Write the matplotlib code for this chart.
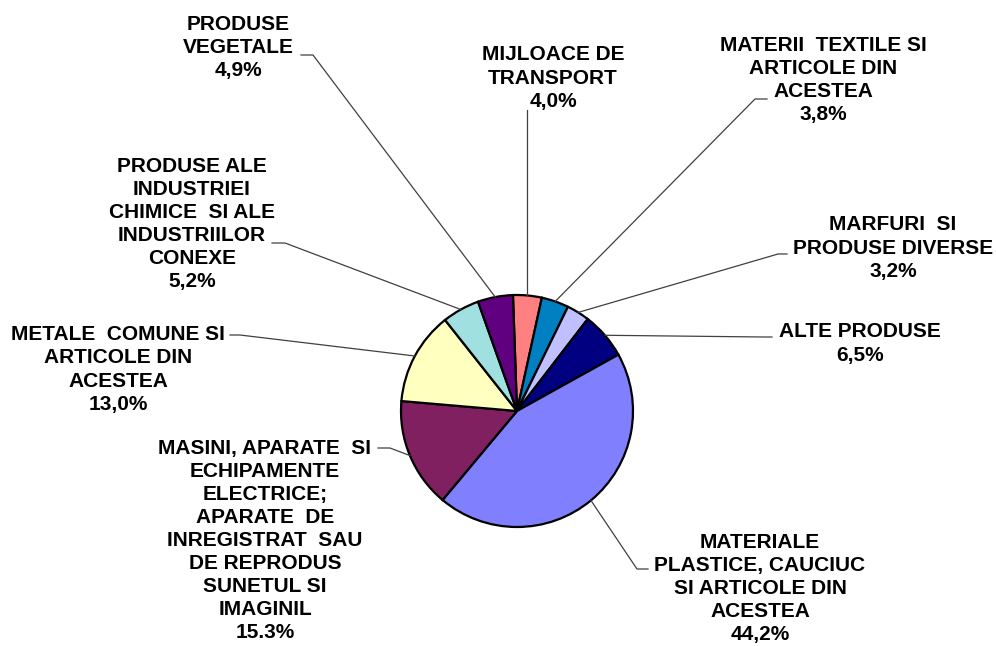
import matplotlib
matplotlib.use("Agg")
import matplotlib.pyplot as plt
from matplotlib.lines import Line2D
import numpy as np

W, H = 996, 646

categories = [
    "MIJLOACE DE\nTRANSPORT",
    "MATERII  TEXTILE SI\nARTICOLE DIN\nACESTEA",
    "MARFURI  SI\nPRODUSE DIVERSE",
    "ALTE PRODUSE",
    "MATERIALE\nPLASTICE, CAUCIUC\nSI ARTICOLE DIN\nACESTEA",
    "MASINI, APARATE  SI\nECHIPAMENTE\nELECTRICE;\nAPARATE  DE\nINREGISTRAT  SAU\nDE REPRODUS\nSUNETUL SI\nIMAGINIL",
    "METALE  COMUNE SI\nARTICOLE DIN\nACESTEA",
    "PRODUSE ALE\nINDUSTRIEI\nCHIMICE  SI ALE\nINDUSTRIILOR\nCONEXE",
    "PRODUSE\nVEGETALE",
]
values = [4.0, 3.8, 3.2, 6.5, 44.2, 15.3, 13.0, 5.2, 4.9]
value_labels = ["4,0%", "3,8%", "3,2%", "6,5%", "44,2%", "15.3%", "13,0%", "5,2%", "4,9%"]
colors = ["#FF8080", "#0080C0", "#C0C0FF", "#000080", "#8080FF",
          "#802060", "#FFFFC0", "#A0E0E0", "#600080"]

# layout (pixels, top-left origin)
cx, cy, R = 517, 411, 116
label_pos = [(553, 78), (823, 80), (893, 248), (860, 343.5), (760, 588.5),
             (265, 540.5), (118, 369.5), (192, 224), (238, 47.5)]
# leader: (text end x, elbow x, elbow y)
leaders = [(None, None, 110), (767, 755, 99), (787, 778, 254), (772, 764, 337),
           (648, 637, 569), (378, 390, 448), (230, 240, 335), (272, 285, 243),
           (301, 313, 55)]

fig = plt.figure(figsize=(W / 100, H / 100), dpi=100)
fig.patch.set_facecolor("white")

def fx(x):
    return x / W

def fy(y):
    return 1 - y / H

ax = fig.add_axes([fx(cx - R), fy(cy + R), 2 * R / W, 2 * R / H])
wedges, _ = ax.pie(values, colors=colors, startangle=92, counterclock=False,
                   radius=1, wedgeprops=dict(edgecolor="black", linewidth=1.6))
ax.set_xlim(-1, 1)
ax.set_ylim(-1, 1)
ax.set_aspect("auto")
ax.axis("off")

for w, lab, val, pos, ld in zip(wedges, categories, value_labels, label_pos, leaders):
    ang = np.deg2rad((w.theta1 + w.theta2) / 2)
    axp = cx + R * np.cos(ang)
    ayp = cy - R * np.sin(ang)
    fig.text(fx(pos[0]), fy(pos[1]), lab + "\n" + val, ha="center", va="center",
             multialignment="center", fontsize=15, fontweight="bold",
             family="Liberation Sans", linespacing=1.27, color="black")
    tx, ex, ey = ld
    if tx is None:
        xs = [axp, axp]
        ys = [ey, ayp]
    else:
        xs = [tx, ex, axp]
        ys = [ey, ey, ayp]
    fig.add_artist(Line2D([fx(x) for x in xs], [fy(y) for y in ys],
                          color="#404040", linewidth=0.9, transform=fig.transFigure))

fig.savefig("out.png", dpi=100, facecolor="white")
